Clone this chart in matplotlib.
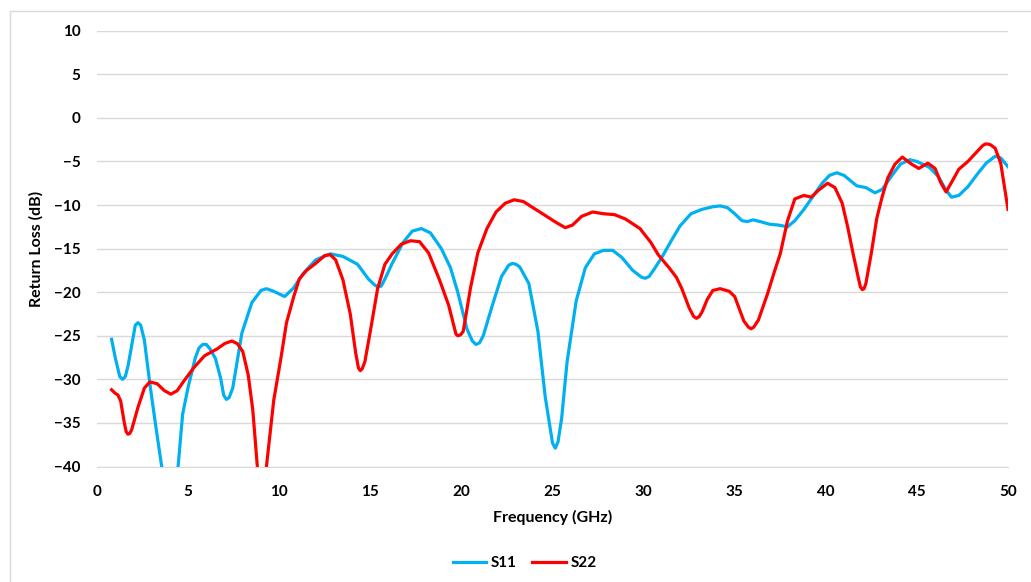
# Return loss S11 / S22 vs frequency

import numpy as np
import matplotlib.pyplot as plt
from matplotlib.patches import Rectangle

# Data
freq_s11 = [0.8, 1.0, 1.25, 1.4, 1.55, 1.7, 2.0, 2.1, 2.25, 2.4, 2.6, 2.9, 3.2, 3.55, 4.0, 4.45,
            4.7, 5.0, 5.4, 5.6, 5.8, 6.0, 6.2, 6.5, 6.8, 6.95, 7.1, 7.25, 7.45, 7.95, 8.5, 9.0,
            9.3, 9.7, 10.3, 10.8, 11.3, 12.0, 12.8, 13.5, 14.3, 14.9, 15.2, 15.4, 15.6, 15.8,
            16.2, 16.8, 17.3, 17.8, 18.3, 18.9, 19.4, 19.8, 20.3, 20.6, 20.8, 21.0, 21.2,
            21.7, 22.2, 22.6, 22.8, 23.0, 23.2, 23.7, 24.2, 24.6, 25.0, 25.15, 25.3, 25.5,
            25.8, 26.3, 26.8, 27.3, 27.8, 28.3, 28.8, 29.4, 29.9, 30.1, 30.3, 30.6, 31.0,
            31.6, 32.0, 32.6, 33.2, 33.8, 34.2, 34.6, 35.0, 35.4, 35.7, 36.0, 36.4, 36.9,
            37.4, 37.9, 38.3, 38.8, 39.3, 39.8, 40.2, 40.6, 41.0, 41.7, 42.2, 42.7, 43.1,
            43.6, 44.1, 44.6, 45.0, 45.7, 46.2, 46.6, 46.9, 47.3, 47.8, 48.3, 48.8, 49.3,
            49.6, 50.0]
s11 = [-25.4, -27.5, -29.7, -30.0, -29.7, -28.5, -25.0, -23.8, -23.5, -23.8, -25.5, -30.5,
       -35.0, -40.0, -44.0, -40.0, -34.0, -30.9, -27.5, -26.4, -26.0, -26.0, -26.5, -27.6,
       -30.0, -31.8, -32.3, -32.1, -31.0, -24.7, -21.2, -19.8, -19.6, -19.9, -20.5, -19.5,
       -17.9, -16.3, -15.6, -15.9, -16.8, -18.5, -19.1, -19.4, -19.3, -18.5, -16.7, -14.3,
       -13.0, -12.7, -13.2, -15.0, -17.2, -20.0, -24.2, -25.6, -26.0, -25.8, -25.0, -21.5,
       -18.2, -16.9, -16.7, -16.8, -17.1, -19.0, -24.5, -32.0, -37.3, -37.9, -37.2, -34.5,
       -28.0, -21.0, -17.2, -15.6, -15.2, -15.2, -16.0, -17.5, -18.3, -18.4, -18.2, -17.3,
       -16.0, -13.8, -12.4, -11.0, -10.5, -10.2, -10.1, -10.3, -11.0, -11.8, -11.9, -11.7,
       -11.9, -12.2, -12.3, -12.5, -11.8, -10.5, -9.0, -7.5, -6.6, -6.3, -6.6, -7.8, -8.0,
       -8.6, -8.2, -6.7, -5.3, -4.8, -5.0, -5.7, -6.8, -8.3, -9.1, -8.9, -7.9, -6.5, -5.2,
       -4.4, -4.6, -5.6]

freq_s22 = [0.8, 1.0, 1.15, 1.3, 1.5, 1.6, 1.7, 1.8, 1.9, 2.25, 2.6, 2.9, 3.3, 3.7, 4.05, 4.4,
            4.8, 5.3, 5.9, 6.6, 7.0, 7.4, 7.7, 8.0, 8.3, 8.55, 8.8, 9.05, 9.3, 9.7, 10.1, 10.4,
            10.8, 11.1, 11.5, 12.0, 12.5, 12.8, 13.1, 13.5, 13.9, 14.2, 14.35, 14.45, 14.55,
            14.7, 15.0, 15.4, 15.8, 16.2, 16.7, 17.2, 17.7, 18.2, 18.8, 19.3, 19.7, 19.8,
            19.95, 20.1, 20.5, 20.9, 21.4, 21.9, 22.4, 22.9, 23.4, 24.0, 24.6, 25.2, 25.7,
            26.1, 26.6, 27.2, 27.8, 28.4, 29.0, 29.8, 30.4, 30.8, 31.4, 31.8, 32.1, 32.5,
            32.75, 32.9, 33.05, 33.2, 33.5, 33.8, 34.2, 34.7, 35.0, 35.5, 35.75, 35.9, 36.05,
            36.3, 36.8, 37.2, 37.5, 37.9, 38.3, 38.8, 39.2, 39.6, 40.1, 40.5, 40.9, 41.2,
            41.5, 41.8, 41.9, 42.0, 42.1, 42.2, 42.5, 42.8, 43.1, 43.4, 43.8, 44.2, 44.7,
            45.1, 45.6, 46.0, 46.3, 46.6, 46.9, 47.3, 47.8, 48.2, 48.6, 48.75, 48.9, 49.05,
            49.3, 49.6, 50.0]
s22 = [-31.2, -31.6, -31.8, -32.5, -35.0, -36.0, -36.3, -36.2, -35.8, -33.2, -31.0, -30.3,
       -30.5, -31.3, -31.7, -31.3, -30.1, -28.7, -27.3, -26.5, -25.9, -25.6, -25.9, -26.8,
       -29.5, -33.5, -40.0, -43.0, -40.0, -32.4, -27.5, -23.5, -20.5, -18.5, -17.5, -16.7,
       -15.8, -15.7, -16.3, -18.6, -22.5, -27.0, -28.7, -29.0, -28.8, -28.0, -24.5, -19.6,
       -16.8, -15.6, -14.5, -14.1, -14.2, -15.5, -18.6, -21.5, -24.8, -25.0, -24.9, -24.5,
       -19.5, -15.5, -12.7, -10.8, -9.8, -9.4, -9.6, -10.4, -11.2, -12.0, -12.6, -12.3,
       -11.3, -10.8, -11.0, -11.1, -11.6, -12.7, -14.3, -15.7, -17.2, -18.3, -19.6, -21.8,
       -22.8, -23.0, -22.8, -22.3, -20.8, -19.8, -19.6, -19.9, -20.5, -23.3, -24.0, -24.2,
       -24.0, -23.2, -20.2, -17.5, -15.6, -11.8, -9.3, -8.9, -9.1, -8.3, -7.5, -8.0, -9.8,
       -12.5, -15.6, -18.5, -19.4, -19.7, -19.6, -19.0, -15.5, -11.5, -9.0, -6.9, -5.3,
       -4.5, -5.3, -5.8, -5.2, -5.8, -7.4, -8.5, -7.4, -5.9, -5.0, -4.1, -3.2, -3.0, -3.0,
       -3.1, -3.5, -5.2, -10.5]

x_ticks = [0, 5, 10, 15, 20, 25, 30, 35, 40, 45, 50]
y_ticks = [10, 5, 0, -5, -10, -15, -20, -25, -30, -35, -40]

plt.rcParams['font.family'] = ['Lato', 'DejaVu Sans']
plt.rcParams['font.weight'] = 'bold'

fig = plt.figure(figsize=(10.31, 5.82), dpi=100)
ax = fig.add_axes([97/1031, 1 - 466.5/582, (1008 - 97)/1031, (466.5 - 30.7)/582])

# light chart border (Excel style)
fig.patches.append(Rectangle((10/1031, -0.1), 1.2, 1.1 - 11/582, transform=fig.transFigure,
                             fill=False, edgecolor='#D9D9D9', linewidth=1))

ax.plot(freq_s11, s11, color='#00B0F0', lw=2.3, solid_joinstyle='round', label='S11')
ax.plot(freq_s22, s22, color='#FF0000', lw=2.3, solid_joinstyle='round', label='S22')

ax.set_xlim(0, 50)
ax.set_ylim(-40, 10)
ax.set_xticks(x_ticks)
ax.set_yticks(y_ticks)
ax.grid(axis='y', color='#D9D9D9', lw=1)
ax.set_axisbelow(True)
for s in ['top', 'right', 'left']:
    ax.spines[s].set_visible(False)
ax.spines['bottom'].set_color('#D9D9D9')
ax.tick_params(length=0, labelsize=11)
ax.tick_params(axis='x', pad=13)
ax.tick_params(axis='y', pad=12)
for lbl in ax.get_xticklabels() + ax.get_yticklabels():
    lbl.set_fontweight('bold')

ax.set_xlabel('Frequency (GHz)', fontsize=11.5, fontweight='bold', labelpad=8)
ax.set_ylabel('Return Loss (dB)', fontsize=11.5, fontweight='bold')
ax.yaxis.set_label_coords((44 - 97) / 911, 0.5)

fig.legend(loc='center', bbox_to_anchor=(524.5/1031, 1 - 563/582), ncol=2, frameon=False,
           prop={'size': 11, 'weight': 'bold'}, handlelength=2.2, columnspacing=1.0,
           handletextpad=0.3)

plt.savefig('out.png', dpi=100)
